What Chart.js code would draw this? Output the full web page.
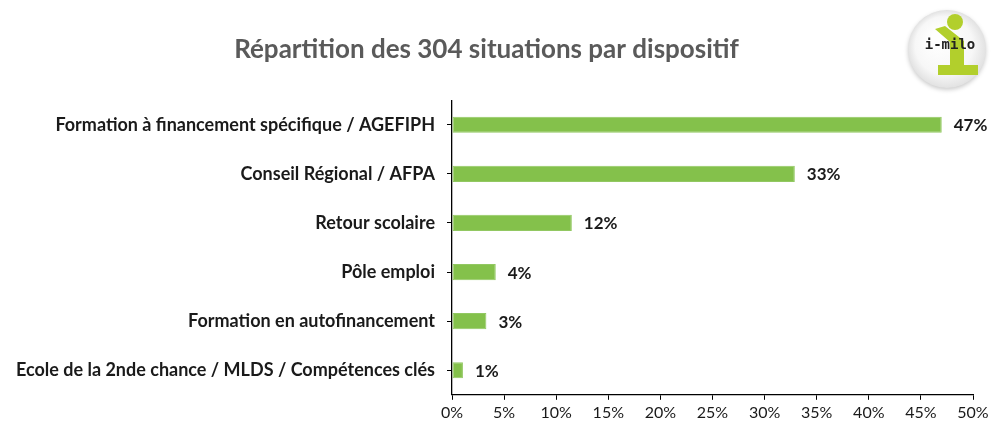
<!DOCTYPE html>
<html lang="fr">
<head>
<meta charset="utf-8">
<script src="https://cdn.jsdelivr.net/npm/chart.js@4"></script>
<style>
  html, body { margin: 0; padding: 0; background: #ffffff; }
  #wrap { width: 994px; height: 426px; }
</style>
</head>
<body>
<div id="wrap"><canvas id="graphique" width="994" height="426"></canvas></div>
<script>
// Données
const dispositifs = [
    "Formation à financement spécifique / AGEFIPH",
    "Conseil Régional / AFPA",
    "Retour scolaire",
    "Pôle emploi",
    "Formation en autofinancement",
    "Ecole de la 2nde chance / MLDS / Compétences clés"
];
const parts = [47.0, 32.9, 11.5, 4.2, 3.3, 1.05];
const etiquettes = ["47%", "33%", "12%", "4%", "3%", "1%"];
const titre = "Répartition des 304 situations par dispositif";

// Étiquettes de valeur à droite des barres
const pluginValeurs = {
    id: "valeurs",
    afterDatasetsDraw(chart) {
        const ctx = chart.ctx;
        const meta = chart.getDatasetMeta(0);
        ctx.save();
        ctx.font = "bold 17px Lato";
        ctx.fillStyle = "#1a1a1a";
        ctx.textAlign = "left";
        ctx.textBaseline = "middle";
        meta.data.forEach((barre, i) => {
            ctx.fillText(etiquettes[i], barre.x + 12, barre.y + 1);
        });
        ctx.restore();
    }
};

// Petit logo rond en haut à droite
const pluginLogo = {
    id: "logo",
    afterDraw(chart) {
        const ctx = chart.ctx;
        const cx = 947, cy = 49, r = 39;
        ctx.save();
        ctx.shadowColor = "rgba(0,0,0,0.2)";
        ctx.shadowBlur = 4;
        ctx.shadowOffsetY = 2;
        const grad = ctx.createRadialGradient(cx - 10, cy - 12, 5, cx, cy, r);
        grad.addColorStop(0, "#ffffff");
        grad.addColorStop(0.7, "#f7f7f7");
        grad.addColorStop(1, "#e2e2e2");
        ctx.fillStyle = grad;
        ctx.beginPath();
        ctx.arc(cx, cy, r, 0, Math.PI * 2);
        ctx.fill();
        ctx.shadowColor = "transparent";
        // forme verte du "i"
        ctx.fillStyle = "#b2cf2c";
        ctx.beginPath();
        ctx.arc(955, 22, 8, 0, Math.PI * 2);
        ctx.fill();
        ctx.beginPath();
        ctx.moveTo(935, 29);
        ctx.lineTo(945, 26);
        ctx.lineTo(964, 41);
        ctx.lineTo(964, 65);
        ctx.lineTo(978, 65);
        ctx.lineTo(978, 75);
        ctx.lineTo(938, 75);
        ctx.lineTo(938, 65);
        ctx.lineTo(950, 65);
        ctx.lineTo(950, 42);
        ctx.closePath();
        ctx.fill();
        ctx.fillStyle = "#222222";
        ctx.font = "bold 14px 'DejaVu Sans Mono'";
        ctx.textAlign = "center";
        ctx.textBaseline = "middle";
        ctx.fillText("i-milo", 950, 45);
        ctx.restore();
    }
};

const ctxGraphique = document.getElementById("graphique").getContext("2d");
new Chart(ctxGraphique, {
    type: "bar",
    data: {
        labels: dispositifs,
        datasets: [{
            data: parts,
            backgroundColor: "#84c14b",
            borderColor: "#92c862",
            borderWidth: 1,
            borderSkipped: false,
            barPercentage: 0.33,
            categoryPercentage: 1
        }]
    },
    options: {
        indexAxis: "y",
        responsive: false,
        animation: false,
        layout: { padding: { left: 0, right: 21, top: 0, bottom: 1 } },
        plugins: {
            legend: { display: false },
            tooltip: { enabled: false },
            title: {
                display: true,
                text: titre,
                color: "#5a5a5a",
                font: { family: "Lato", size: 26, weight: "bold" },
                padding: { top: 34, bottom: 35 }
            }
        },
        scales: {
            x: {
                min: 0,
                max: 50,
                ticks: {
                    stepSize: 5,
                    callback: (v) => v + "%",
                    color: "#1a1a1a",
                    font: { family: "Lato", size: 16 },
                    padding: 3
                },
                grid: { drawOnChartArea: false, tickLength: 5, color: "#000000" },
                border: { color: "#000000", width: 1.3 }
            },
            y: {
                ticks: {
                    color: "#1a1a1a",
                    font: { family: "Lato", size: 18, weight: "bold" },
                    padding: 12,
                    autoSkip: false
                },
                grid: { drawOnChartArea: false, tickLength: 5, color: "#000000", offset: false },
                border: { color: "#000000", width: 1.3 },
                afterFit(scale) { scale.width = 452; }
            }
        }
    },
    plugins: [pluginValeurs, pluginLogo]
});
</script>
</body>
</html>
